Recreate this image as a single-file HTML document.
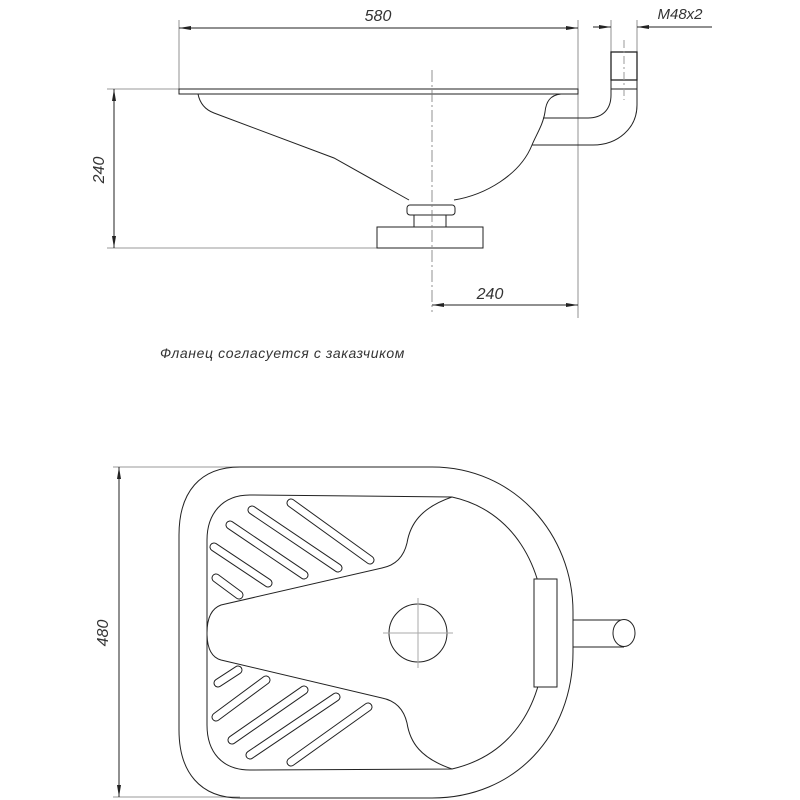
<!DOCTYPE html>
<html><head><meta charset="utf-8"><style>html,body{margin:0;padding:0;background:#fff}svg{display:block}</style></head>
<body>
<svg width="800" height="800" viewBox="0 0 800 800" xmlns="http://www.w3.org/2000/svg">
<defs>
<marker id="a" markerWidth="12" markerHeight="6" refX="12" refY="3" orient="auto" markerUnits="userSpaceOnUse"><path d="M0,1 L12,3 L0,5 Z" fill="#222"/></marker>
</defs>
<g fill="none" stroke="#222" stroke-width="1">
<line x1="179" y1="20" x2="179" y2="92" stroke="#777" stroke-width="0.8"/>
<line x1="578" y1="20" x2="578" y2="318" stroke="#777" stroke-width="0.8"/>
<line x1="185" y1="28" x2="179" y2="28" marker-end="url(#a)"/>
<line x1="185" y1="28" x2="572" y2="28"/>
<line x1="560" y1="28" x2="578" y2="28" marker-end="url(#a)"/>
<line x1="107" y1="89" x2="179" y2="89" stroke="#777" stroke-width="0.8"/>
<line x1="107" y1="248" x2="377" y2="248" stroke="#777" stroke-width="0.8"/>
<line x1="114" y1="110" x2="114" y2="89" marker-end="url(#a)"/>
<line x1="114" y1="110" x2="114" y2="230"/>
<line x1="114" y1="230" x2="114" y2="248" marker-end="url(#a)"/>
<line x1="450" y1="305" x2="432" y2="305" marker-end="url(#a)"/>
<line x1="450" y1="305" x2="560" y2="305"/>
<line x1="560" y1="305" x2="578" y2="305" marker-end="url(#a)"/>
<line x1="611" y1="20" x2="611" y2="52" stroke="#777" stroke-width="0.8"/>
<line x1="637" y1="20" x2="637" y2="52" stroke="#777" stroke-width="0.8"/>
<line x1="593" y1="27" x2="611" y2="27" marker-end="url(#a)"/>
<line x1="655" y1="27" x2="637" y2="27" marker-end="url(#a)"/>
<line x1="650" y1="27" x2="712" y2="27"/>
<rect x="179" y="89" width="399" height="5"/>
<path d="M198,94 C200,104 206,110 214,113 L334,158 L409,200"/>
<path d="M561,94 C550,95 546,102 545,112 C543,125 536,135 532,145 C520,175 485,195 454,200"/>
<rect x="407" y="205" width="48" height="10" rx="3"/>
<rect x="414" y="215" width="32" height="12"/>
<rect x="377" y="227" width="106" height="21"/>
<path d="M543,118 L588,118 C602,118 611,110 611,95 L611,52"/>
<path d="M532,145 L593,145 C618,145 637,128 637,105 L637,52"/>
<rect x="611" y="52" width="26" height="28" stroke-width="1.3"/>
<line x1="611" y1="89" x2="637" y2="89"/>
<line x1="624" y1="40" x2="624" y2="100" stroke="#999" stroke-dasharray="8,3,2,3"/>
<line x1="432" y1="70" x2="432" y2="312" stroke="#777" stroke-width="0.8" stroke-dasharray="12,3,2,3"/>
<line x1="113" y1="467" x2="240" y2="467" stroke="#777" stroke-width="0.8"/>
<line x1="113" y1="797" x2="240" y2="797" stroke="#777" stroke-width="0.8"/>
<line x1="119" y1="485" x2="119" y2="467" marker-end="url(#a)"/>
<line x1="119" y1="485" x2="119" y2="780"/>
<line x1="119" y1="780" x2="119" y2="797" marker-end="url(#a)"/>
<path d="M240,467 L432,467 C515,467 573,535 573,612 L573,652 C573,735 515,798 432,798 L240,798 C200,798 179,772 179,730 L179,535 C179,492 200,467 240,467Z"/>
<path d="M250,495 L452,497 C512,510 545,565 545,633 C545,705 512,755 452,769 L250,770 C222,770 207,752 207,725 L207,540 C207,514 222,495 250,495Z"/>
<path d="M452,497 C420,508 410,525 407,543 C403,560 392,566 382,568 L221,605 C210,609 207,620 207,633 C207,646 210,657 221,660 L382,698 C392,700 403,706 407,723 C410,742 420,758 452,769"/>
<circle cx="418" cy="633" r="29"/>
<line x1="383" y1="633" x2="453" y2="633" stroke="#aaa"/>
<line x1="418" y1="598" x2="418" y2="668" stroke="#aaa"/>
<rect x="534" y="579" width="23" height="108" fill="#fff"/>
<path d="M573,620 L624,620 M573,647 L624,647"/>
<ellipse cx="624" cy="633" rx="11" ry="13.5" fill="#fff"/>
</g>
<g stroke-linecap="round">
<g stroke="#222" stroke-width="9">
<line x1="291" y1="503" x2="370" y2="560"/><line x1="252" y1="510" x2="338" y2="568"/><line x1="230" y1="525" x2="304" y2="575"/><line x1="214" y1="547" x2="268" y2="583"/><line x1="216" y1="578" x2="239" y2="595"/>
<line x1="218" y1="683" x2="238" y2="670"/><line x1="216" y1="717" x2="266" y2="680"/><line x1="232" y1="740" x2="304" y2="690"/><line x1="250" y1="755" x2="336" y2="697"/><line x1="291" y1="762" x2="368" y2="707"/>
</g>
<g stroke="#fff" stroke-width="7">
<line x1="291" y1="503" x2="370" y2="560"/><line x1="252" y1="510" x2="338" y2="568"/><line x1="230" y1="525" x2="304" y2="575"/><line x1="214" y1="547" x2="268" y2="583"/><line x1="216" y1="578" x2="239" y2="595"/>
<line x1="218" y1="683" x2="238" y2="670"/><line x1="216" y1="717" x2="266" y2="680"/><line x1="232" y1="740" x2="304" y2="690"/><line x1="250" y1="755" x2="336" y2="697"/><line x1="291" y1="762" x2="368" y2="707"/>
</g>
</g>
<g font-family="Liberation Sans, sans-serif" font-style="italic" fill="#333">
<text x="378" y="21" font-size="16" text-anchor="middle">580</text>
<text x="490" y="299" font-size="16" text-anchor="middle">240</text>
<text x="680" y="19" font-size="15" text-anchor="middle">M48x2</text>
<text transform="translate(104,170) rotate(-90)" font-size="16" text-anchor="middle">240</text>
<text transform="translate(108,633) rotate(-90)" font-size="16" text-anchor="middle">480</text>
<text x="160" y="358" font-size="14" letter-spacing="0.6">Фланец согласуется с заказчиком</text>
</g>
</svg>
</body></html>
